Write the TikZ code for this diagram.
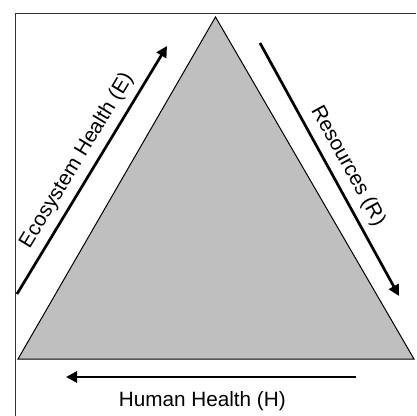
\documentclass[tikz,border=0pt]{standalone}
\usepackage{fontspec}
\setmainfont{Liberation Sans}
\usetikzlibrary{calc, arrows.meta}
\tikzset{>={Triangle[length=5.5pt,width=5.5pt]}}

\begin{document}
\begin{tikzpicture}[x=0.5pt, y=-0.5pt, font=\fontsize{10.35}{12}\selectfont]
\useasboundingbox (0,0) rectangle (416,416);
% frame
\draw[black!80, line width=0.5pt] (15.5,416) -- (15.5,14) -- (416,14);
% triangle
\coordinate (apex) at (215.5,17);
\coordinate (bl) at (18,359);
\coordinate (br) at (414,359);
\filldraw[fill=black!25, line width=0.5pt] (apex) -- (bl) -- (br) -- cycle;
% arrows
\coordinate (e-start) at (17,294);
\coordinate (e-end) at (167,46);
\coordinate (r-start) at (260,43);
\coordinate (r-end) at (399,296);
\coordinate (h-start) at (356,377);
\coordinate (h-end) at (66,377);
\path[->, line width=1.35pt]
(e-start)
edge node (elabel) [above, sloped] {Ecosystem Health (E)} (e-end)
(r-start)
edge node (rlabel) [above, sloped, pos=0.52] {Resources (R)} (r-end)
(h-start)
edge node (hlabel) [below=3pt, pos=0.53] {Human Health (H)} (h-end)
;
\end{tikzpicture}
\end{document}
